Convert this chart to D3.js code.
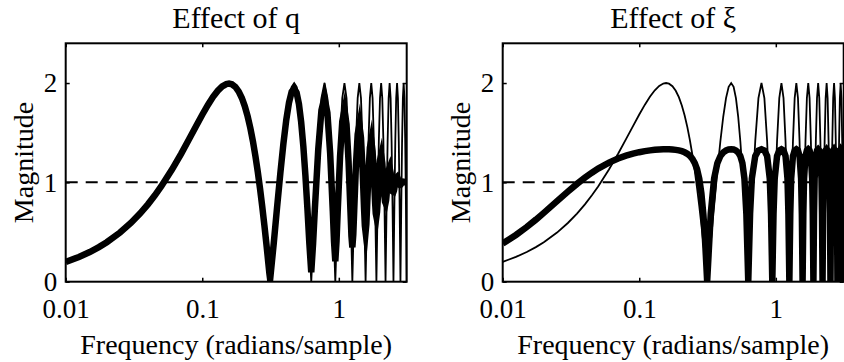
<!DOCTYPE html>
<html>
<head>
<meta charset="utf-8">
<script src="https://cdn.jsdelivr.net/npm/d3@7"></script>
<style>
  body { margin: 0; background: #fff; }
  svg { display: block; }
  text { font-family: "Liberation Serif", "DejaVu Serif", serif; }
</style>
</head>
<body>
<svg id="chart" width="844" height="362"></svg>
<script>
// frequency grid (radians/sample), shared by every curve
const freq = [
  0.01, 0.0125, 0.015, 0.0175, 0.02, 0.025, 0.03, 0.035, 0.04, 0.045,
  0.05, 0.06, 0.07, 0.08, 0.09, 0.1, 0.11, 0.12, 0.13, 0.14,
  0.15, 0.157, 0.165, 0.175, 0.185, 0.195, 0.205, 0.215, 0.225, 0.235,
  0.245, 0.255, 0.265, 0.275, 0.285, 0.295, 0.3, 0.305, 0.31,
  0.3142, 0.3338, 0.3534, 0.3731, 0.3927, 0.4123, 0.4320, 0.4516, 0.4712, 0.4909, 0.5105, 0.5301, 0.5498, 0.5694, 0.5890, 0.6087,
  0.6283, 0.6480, 0.6676, 0.7069, 0.7461, 0.7854, 0.8247, 0.8639, 0.9032, 0.9228,
  0.9425, 0.9621, 0.9817, 1.0210, 1.0603, 1.0996, 1.1388, 1.1781, 1.2174, 1.2370,
  1.2566, 1.2763, 1.2959, 1.3352, 1.3744, 1.4137, 1.4530, 1.4923, 1.5315, 1.5512,
  1.5708, 1.5904, 1.6101, 1.6493, 1.6886, 1.7279, 1.7671, 1.8064, 1.8457, 1.8653,
  1.8850, 1.9046, 1.9242, 1.9635, 2.0028, 2.0420, 2.0813, 2.1206, 2.1598, 2.1795,
  2.1991, 2.2188, 2.2384, 2.2777, 2.3169, 2.3562, 2.3955, 2.4347, 2.4740, 2.4936,
  2.5133, 2.5329, 2.5525, 2.5918, 2.6311, 2.6704, 2.7096, 2.7489, 2.7882, 2.8078,
  2.8274, 2.8471, 2.8667, 2.9060, 2.9452, 2.9845, 3.0238, 3.0631, 3.1023, 3.1220,
  3.1416
];

// thin curve (plain comb), drawn in both panels
const magBase = [
  0.1997, 0.2494, 0.2989, 0.3482, 0.3973, 0.4948, 0.5910, 0.6858, 0.7788, 0.8699,
  0.9589, 1.1293, 1.2884, 1.4347, 1.5667, 1.6829, 1.7824, 1.8641, 1.9271, 1.9709,
  1.9950, 2.0000, 1.9937, 1.9680, 1.9225, 1.8579, 1.7747, 1.6738, 1.5562, 1.4230,
  1.2755, 1.1154, 0.9441, 0.7633, 0.5750, 0.3809, 0.2822, 0.1829, 0.0832,
  0, 0.3902, 0.7654, 1.1111, 1.4142, 1.6629, 1.8478, 1.9616, 2, 1.9616, 1.8478, 1.6629, 1.4142, 1.1111, 0.7654, 0.3902,
  0, 0.3902, 0.7654, 1.4142, 1.8478, 2, 1.8478, 1.4142, 0.7654, 0.3902,
  0, 0.3902, 0.7654, 1.4142, 1.8478, 2, 1.8478, 1.4142, 0.7654, 0.3902,
  0, 0.3902, 0.7654, 1.4142, 1.8478, 2, 1.8478, 1.4142, 0.7654, 0.3902,
  0, 0.3902, 0.7654, 1.4142, 1.8478, 2, 1.8478, 1.4142, 0.7654, 0.3902,
  0, 0.3902, 0.7654, 1.4142, 1.8478, 2, 1.8478, 1.4142, 0.7654, 0.3902,
  0, 0.3902, 0.7654, 1.4142, 1.8478, 2, 1.8478, 1.4142, 0.7654, 0.3902,
  0, 0.3902, 0.7654, 1.4142, 1.8478, 2, 1.8478, 1.4142, 0.7654, 0.3902,
  0, 0.3902, 0.7654, 1.4142, 1.8478, 2, 1.8478, 1.4142, 0.7654, 0.3902,
  0
];

// thick curve, left panel (effect of q)
const magQ = [
  0.1997, 0.2494, 0.2989, 0.3482, 0.3973, 0.4948, 0.5909, 0.6857, 0.7786, 0.8697,
  0.9586, 1.1288, 1.2876, 1.4336, 1.5651, 1.6808, 1.7797, 1.8607, 1.9230, 1.9661,
  1.9894, 1.9938, 1.9869, 1.9605, 1.9143, 1.8491, 1.7654, 1.6641, 1.5464, 1.4132,
  1.2659, 1.1063, 0.9360, 0.7563, 0.5695, 0.3774, 0.2799, 0.1822, 0.0856,
  0.0245, 0.3857, 0.7541, 1.0924, 1.3876, 1.6283, 1.8054, 1.9124, 1.9455, 1.9037, 1.7890, 1.6063, 1.3631, 1.0693, 0.7372, 0.3829,
  0.0955, 0.3835, 0.7310, 1.3322, 1.7258, 1.8536, 1.7005, 1.2962, 0.7145, 0.4017,
  0.2061, 0.4068, 0.7106, 1.2568, 1.6145, 1.7270, 1.5831, 1.2157, 0.7079, 0.4627,
  0.3455, 0.4734, 0.7107, 1.1749, 1.4840, 1.5782, 1.4500, 1.1361, 0.7315, 0.5638,
  0.5000, 0.5784, 0.7426, 1.1011, 1.3486, 1.4218, 1.3157, 1.0709, 0.7858, 0.6857,
  0.6545, 0.7013, 0.8028, 1.0466, 1.2229, 1.2730, 1.1946, 1.0281, 0.8574, 0.8064,
  0.7939, 0.8204, 0.8757, 1.0152, 1.1193, 1.1465, 1.0980, 1.0071, 0.9272, 0.9072,
  0.9045, 0.9177, 0.9423, 1.0027, 1.0460, 1.0545, 1.0330, 1.0007, 0.9784, 0.9746,
  0.9755, 0.9801, 0.9868, 1.0001, 1.0068, 1.0062, 1.0025, 1.0000, 0.9997, 0.9999,
  1.0
];

// thick curve, right panel (effect of xi)
const magXi = [
  0.3844, 0.4704, 0.5506, 0.6248, 0.6927, 0.8108, 0.9069, 0.9846, 1.0470, 1.0974,
  1.1382, 1.1986, 1.2398, 1.2685, 1.2890, 1.3038, 1.3146, 1.3223, 1.3277, 1.3311,
  1.3330, 1.3333, 1.3329, 1.3309, 1.3273, 1.3217, 1.3138, 1.3027, 1.2875, 1.2665,
  1.2369, 1.1944, 1.1319, 1.0375, 0.8922, 0.6707, 0.5242, 0.3541, 0.1653,
  0, 0.6833, 1.0388, 1.1931, 1.2649, 1.3015, 1.3208, 1.3304, 1.3333, 1.3304, 1.3208, 1.3015, 1.2649, 1.1931, 1.0388, 0.6833,
  0, 0.6833, 1.0388, 1.2649, 1.3208, 1.3333, 1.3208, 1.2649, 1.0388, 0.6833,
  0, 0.6833, 1.0388, 1.2649, 1.3208, 1.3333, 1.3208, 1.2649, 1.0388, 0.6833,
  0, 0.6833, 1.0388, 1.2649, 1.3208, 1.3333, 1.3208, 1.2649, 1.0388, 0.6833,
  0, 0.6833, 1.0388, 1.2649, 1.3208, 1.3333, 1.3208, 1.2649, 1.0388, 0.6833,
  0, 0.6833, 1.0388, 1.2649, 1.3208, 1.3333, 1.3208, 1.2649, 1.0388, 0.6833,
  0, 0.6833, 1.0388, 1.2649, 1.3208, 1.3333, 1.3208, 1.2649, 1.0388, 0.6833,
  0, 0.6833, 1.0388, 1.2649, 1.3208, 1.3333, 1.3208, 1.2649, 1.0388, 0.6833,
  0, 0.6833, 1.0388, 1.2649, 1.3208, 1.3333, 1.3208, 1.2649, 1.0388, 0.6833,
  0
];

const xDomain = [0.01, 3.1416];
const yDomain = [0, 2.4];
const xTicks = [0.01, 0.1, 1];
const xTickLabels = ["0.01", "0.1", "1"];
const yTicks = [0, 1, 2];
const yTickLabels = ["0", "1", "2"];
const refLevel = 1;
const titles = ["Effect of q", "Effect of \u03BE"];
const xLabel = "Frequency (radians/sample)";
const yLabel = "Magnitude";

const serif = "'Liberation Serif', 'DejaVu Serif', serif";
const svg = d3.select("#chart");

// layout
const plotW = 341;
const plotTop = 43.3;
const plotBottom = 281.7;
const panels = [
    {left: 65.7, title: titles[0], thick: magQ},
    {left: 502.7, title: titles[1], thick: magXi}
];

panels.forEach((p, i) => {
    let x = d3.scaleLog().domain(xDomain).range([p.left, p.left + plotW]);
    let y = d3.scaleLinear().domain(yDomain).range([plotBottom, plotTop]);
    let cx = p.left + plotW / 2;

    let g = svg.append("g");

    g.append("clipPath").attr("id", "clip" + i)
        .append("rect")
        .attr("x", p.left).attr("y", plotTop)
        .attr("width", plotW).attr("height", plotBottom - plotTop);

    let plot = g.append("g").attr("clip-path", "url(#clip" + i + ")");

    let line = d3.line()
        .x((d, j) => x(freq[j]))
        .y(d => y(d));

    // dashed reference at magnitude 1
    plot.append("line")
        .attr("x1", x(xDomain[0])).attr("x2", x(xDomain[1]))
        .attr("y1", y(refLevel)).attr("y2", y(refLevel))
        .style("stroke", "#000")
        .style("stroke-width", 2)
        .style("stroke-dasharray", "12,8");

    plot.append("path")
        .attr("d", line(magBase))
        .style("fill", "none")
        .style("stroke", "#000")
        .style("stroke-width", 1.8)
        .style("stroke-linejoin", "miter");

    plot.append("path")
        .attr("d", line(p.thick))
        .style("fill", "none")
        .style("stroke", "#000")
        .style("stroke-width", 6.5)
        .style("stroke-linejoin", "miter")
        .style("stroke-miterlimit", 10);

    // axes: ticks point inward, labels on bottom and left only
    let xAxis = d3.axisBottom(x).tickValues(xTicks)
        .tickFormat((d, j) => xTickLabels[j])
        .tickSizeInner(-4).tickSizeOuter(0).tickPadding(17);
    let xAxisTop = d3.axisTop(x).tickValues(xTicks).tickFormat("")
        .tickSizeInner(-4).tickSizeOuter(0);
    let yAxis = d3.axisLeft(y).tickValues(yTicks)
        .tickFormat((d, j) => yTickLabels[j])
        .tickSizeInner(-4).tickSizeOuter(0).tickPadding(8.5);
    let yAxisRight = d3.axisRight(y).tickValues(yTicks).tickFormat("")
        .tickSizeInner(-4).tickSizeOuter(0);

    let axes = [
        g.append("g").attr("transform", "translate(0," + plotBottom + ")").call(xAxis),
        g.append("g").attr("transform", "translate(0," + plotTop + ")").call(xAxisTop),
        g.append("g").attr("transform", "translate(" + p.left + ",0)").call(yAxis),
        g.append("g").attr("transform", "translate(" + (p.left + plotW) + ",0)").call(yAxisRight)
    ];
    axes.forEach(a => {
        a.select(".domain").remove();
        a.attr("font-family", serif).attr("font-size", null);
        a.selectAll("line").style("stroke", "#000").style("stroke-width", 1.5);
        a.selectAll("text")
            .style("fill", "#000")
            .style("font-family", serif)
            .style("font-size", "27px");
    });

    // box
    g.append("rect")
        .attr("x", p.left).attr("y", plotTop)
        .attr("width", plotW).attr("height", plotBottom - plotTop)
        .style("fill", "none")
        .style("stroke", "#000")
        .style("stroke-width", 2);

    g.append("text")
        .attr("x", cx).attr("y", 28)
        .attr("text-anchor", "middle")
        .style("font-family", serif)
        .style("font-size", "30px")
        .text(p.title);

    g.append("text")
        .attr("x", cx).attr("y", 354)
        .attr("text-anchor", "middle")
        .style("font-family", serif)
        .style("font-size", "28px")
        .text(xLabel);

    g.append("text")
        .attr("transform", "translate(" + (p.left - 33) + "," + ((plotTop + plotBottom) / 2) + ") rotate(-90)")
        .attr("text-anchor", "middle")
        .style("font-family", serif)
        .style("font-size", "28px")
        .text(yLabel);
});
</script>
</body>
</html>
